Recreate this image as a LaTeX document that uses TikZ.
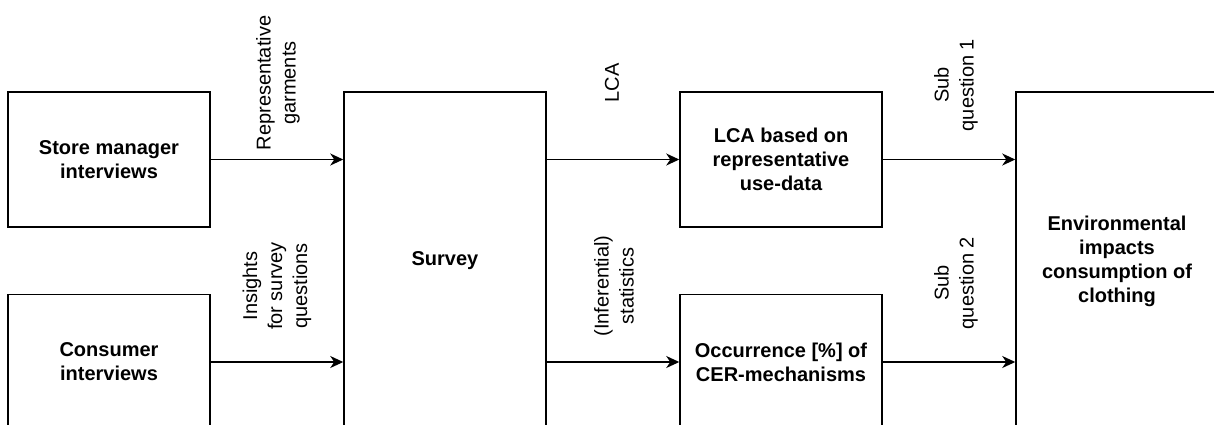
\documentclass[tikz,border=0pt]{standalone}
\usepackage{fontspec}
\setmainfont{Liberation Sans}
\usetikzlibrary{arrows.meta}
\begin{document}
\begin{tikzpicture}[x=1pt,y=-1pt,
  box/.style={draw,line width=1.5pt,minimum width=202pt,minimum height=135pt,inner sep=0pt,align=center,font=\fontsize{20}{24}\selectfont\bfseries},
  tallbox/.style={box,minimum height=338pt},
  lbl/.style={rotate=90,align=center,inner sep=0pt,font=\fontsize{20}{25}\selectfont},
  arr/.style={line width=1.5pt,-{Stealth[length=13pt,width=12pt,inset=4pt]}}]
\useasboundingbox (0,0) rectangle (1214,424);
\clip (0,0) rectangle (1214,424);
\node[box] (store) at (109,159.5) {Store manager\\interviews};
\node[box] (cons) at (109,362) {Consumer\\interviews};
\node[tallbox] (survey) at (445,261) {Survey};
\node[box] (lca) at (781,159.5) {LCA based on\\representative\\use-data};
\node[box] (occ) at (781,362) {Occurrence [\%] of\\CER-mechanisms};
\node[tallbox] (env) at (1117,261) {Environmental\\impacts\\consumption of\\clothing};
\draw[arr] (store.east) -- (store.east -| survey.west);
\draw[arr] (cons.east) -- (cons.east -| survey.west);
\draw[arr] (survey.east |- lca.west) -- (lca.west);
\draw[arr] (survey.east |- occ.west) -- (occ.west);
\draw[arr] (lca.east) -- (lca.east -| env.west);
\draw[arr] (occ.east) -- (occ.east -| env.west);
\node[lbl] (l1) at (278,83) {Representative\\garments};
\node[lbl] (l2) at (277,286) {Insights\\for survey\\questions};
\node[lbl] (l3) at (612,83) {LCA};
\node[lbl] (l4) at (614,286) {(Inferential)\\statistics};
\node[lbl] (l5) at (956,85) {Sub\\question 1};
\node[lbl] (l6) at (956,283) {Sub\\question 2};
\end{tikzpicture}
\end{document}
